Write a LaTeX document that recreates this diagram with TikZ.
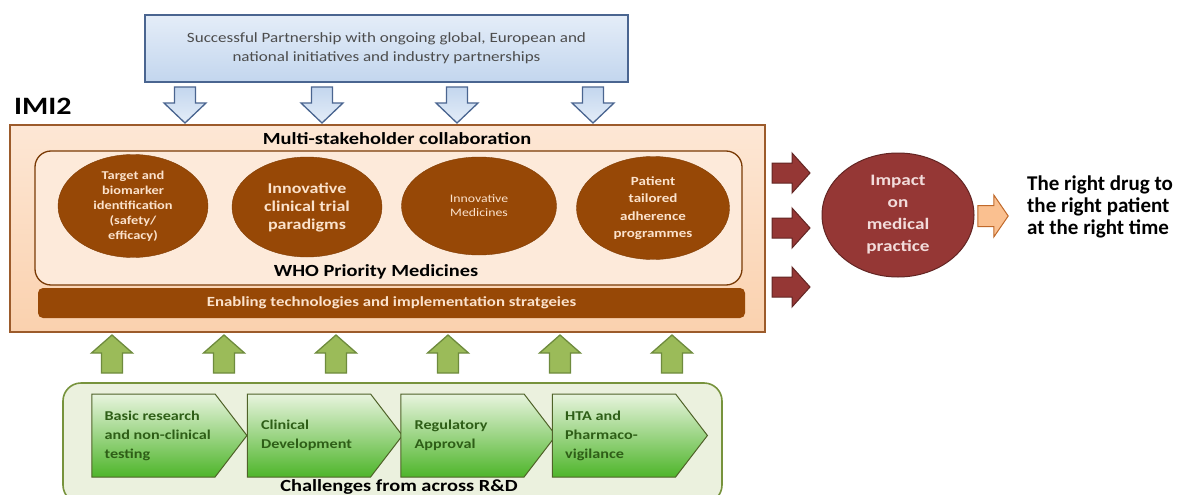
\documentclass[tikz,border=0pt]{standalone}
\usepackage{fontspec}
\setmainfont{Carlito}[FakeStretch=1.2]
\newfontfamily\plainfont{Carlito}
\usepackage{tikz}
\usetikzlibrary{shapes.geometric, shapes.symbols, positioning}

\definecolor{partnercol}{HTML}{C3D6EE}
\definecolor{partnertopcol}{HTML}{E4EDF8}
\definecolor{partnerlinecol}{HTML}{4A6590}
\definecolor{imicol}{HTML}{FAD1AE}
\definecolor{imitopcol}{HTML}{FDE7D5}
\definecolor{imilinecol}{HTML}{9C5B2B}
\definecolor{whocol}{HTML}{FDEADA}
\definecolor{browncol}{HTML}{974806}
\definecolor{creamcol}{HTML}{FBE2CC}
\definecolor{impactcol}{HTML}{953735}
\definecolor{impactlinecol}{HTML}{632523}
\definecolor{impacttextcol}{HTML}{F2DCDB}
\definecolor{goalcol}{HTML}{FAC090}
\definecolor{goallinecol}{HTML}{C0692A}
\definecolor{upcol}{HTML}{9BBB59}
\definecolor{uplinecol}{HTML}{6E8B3D}
\definecolor{rdcol}{HTML}{EBF1DE}
\definecolor{rdlinecol}{HTML}{77933C}
\definecolor{chevtopcol}{HTML}{E8F4DE}
\definecolor{chevbotcol}{HTML}{4EB52A}
\definecolor{chevlinecol}{HTML}{4F6228}
\definecolor{chevtextcol}{HTML}{2E5E17}

\tikzset{
  down arrow/.pic={\path[pic actions] (-10.5,-18) -- (10.5,-18) -- (10.5,-2) -- (21,-2) -- (0,18) -- (-21,-2) -- (-10.5,-2) -- cycle;},
  up arrow/.pic={\path[pic actions] (-10.5,19) -- (10.5,19) -- (10.5,-1) -- (20.5,-1) -- (0,-19) -- (-20.5,-1) -- (-10.5,-1) -- cycle;},
  right arrow/.pic={\path[pic actions] (-19,-10) -- (1,-10) -- (1,-20) -- (19,0) -- (1,20) -- (1,10) -- (-19,10) -- cycle;}
}

\begin{document}
\begin{tikzpicture}[x=1pt, y=-1pt,
  partner/.style={draw=partnerlinecol, line width=1.6pt, top color=partnertopcol, bottom color=partnercol,
    minimum width=483pt, minimum height=67pt, text=black!70, align=center, font=\fontsize{14.2}{19}\selectfont},
  medicine/.style={ellipse, fill=browncol, draw=browncol!85!black, text=creamcol, align=center, inner sep=0pt},
  chev/.style={signal, signal to=east, signal pointer angle=105, draw=chevlinecol, line width=1pt,
    top color=chevtopcol, bottom color=chevbotcol, minimum width=155pt, minimum height=83pt, inner sep=0pt},
  chevlabel/.style={text=chevtextcol, align=left, font=\fontsize{13.5}{19}\selectfont\bfseries, inner sep=0pt},
  heading/.style={font=\fontsize{17}{20}\selectfont\bfseries},
  bluearrow/.style={draw=partnerlinecol, line width=1.3pt, top color=partnercol, bottom color=partnertopcol},
  greenarrow/.style={draw=uplinecol, line width=1.3pt, fill=upcol},
  redarrow/.style={draw=impactlinecol, line width=1pt, fill=impactcol}
]
\useasboundingbox[fill=white] (0,0) rectangle (1178,495);

% partners on top
\node[partner] (partner) at (386.5,48.5) {Successful Partnership with ongoing global, European and\\national initiatives and industry partnerships};
\foreach \x in {185,322,457,593}
  \pic[bluearrow] at (\x,105) {down arrow};

\node[anchor=west, font=\fontsize{25}{28}\selectfont\bfseries, inner sep=0pt] (imi2) at (14,106) {IMI2};

% IMI2 box
\node[draw=imilinecol, line width=1.8pt, top color=imitopcol, bottom color=imicol,
  minimum width=755pt, minimum height=207pt] (imi) at (387.5,228.5) {};
\node[heading] (multi) at (397,139) {Multi-stakeholder collaboration};
\node[draw=browncol!80!black, line width=1.3pt, fill=whocol, rounded corners=16pt,
  minimum width=707pt, minimum height=134pt] (who) at (388.5,218) {};

\node[medicine, minimum width=150pt, minimum height=103pt, font=\fontsize{12}{15}\selectfont\bfseries] (target) at (133,206)
  {Target and\\biomarker\\identification\\(safety/\\efficacy)};
\node[medicine, minimum width=150pt, minimum height=100pt, font=\fontsize{15}{18}\selectfont\bfseries] (trial) at (307,207)
  {Innovative\\clinical trial\\paradigms};
\node[medicine, minimum width=155pt, minimum height=98pt, font=\fontsize{11.5}{14}\selectfont] (innov) at (479,206)
  {Innovative\\Medicines};
\node[medicine, minimum width=153pt, minimum height=103pt, font=\fontsize{12.5}{17.5}\selectfont\bfseries] (patient) at (653,208)
  {Patient\\tailored\\adherence\\programmes};

\node[heading] (whoprio) at (376,272) {WHO Priority Medicines};
\node[fill=browncol, rounded corners=5pt, minimum width=707pt, minimum height=30pt, text=creamcol,
  font=\fontsize{14}{16}\selectfont\bfseries] (enabling) at (391.5,303) {Enabling technologies and implementation stratgeies};

% impact
\foreach \y in {173,228,287}
  \pic[redarrow] at (791,\y) {right arrow};
\node[ellipse, fill=impactcol, draw=impactlinecol, line width=1pt, minimum width=152pt, minimum height=124pt,
  text=impacttextcol, align=center, font=\fontsize{16}{22}\selectfont\bfseries] (impact) at (898,215)
  {Impact\\on\\medical\\practice};
\pic[draw=goallinecol, line width=1pt, fill=goalcol, xscale=0.8, yscale=1.05] at (993,216) {right arrow};
\node[anchor=west, align=left, inner sep=0pt, font=\plainfont\fontsize{21}{22}\selectfont\bfseries] (goal) at (1027,207)
  {The right drug to\\the right patient\\at the right time};

% R&D challenges
\foreach \x in {112,224,336,448,560,672}
  \pic[greenarrow] at (\x,354) {up arrow};
\node[draw=rdlinecol, line width=1.6pt, fill=rdcol, rounded corners=18pt,
  minimum width=659pt, minimum height=120pt] (rd) at (392.5,443) {};

\node[chev] (basic) at (153.5,435.5) {};
\node[chev] (clinical) at (309,435.5) {};
\node[chev] (regulatory) at (462.5,435.5) {};
\node[chev] (hta) at (614,435.5) {};
\node[chevlabel, right=13pt of basic.west] {Basic research\\and non-clinical\\testing};
\node[chevlabel, right=14pt of clinical.west] {Clinical\\Development};
\node[chevlabel, right=14pt of regulatory.west] {Regulatory\\Approval};
\node[chevlabel, right=13pt of hta.west] {HTA and\\Pharmaco-\\vigilance};

\node[heading] (challenges) at (399,487) {Challenges from across R\&D};
\end{tikzpicture}
\end{document}
